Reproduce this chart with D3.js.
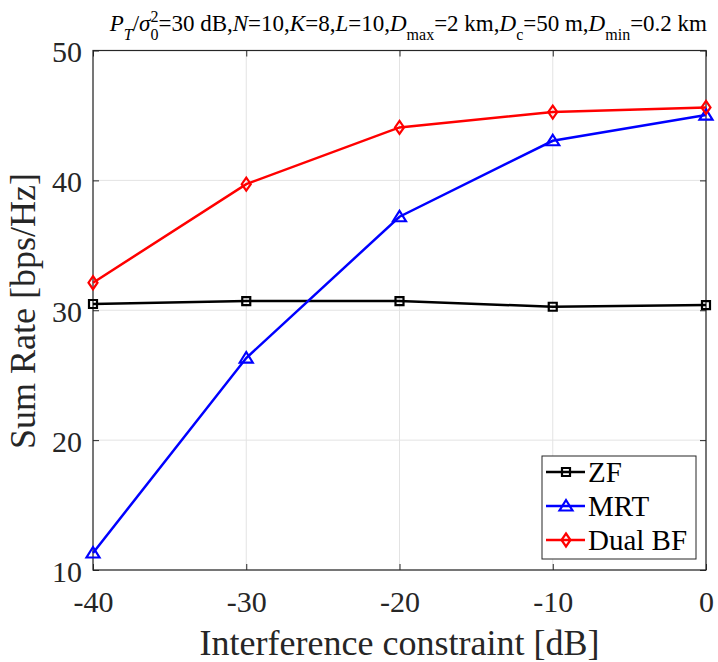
<!DOCTYPE html>
<html>
<head>
<meta charset="utf-8">
<script src="https://cdn.jsdelivr.net/npm/d3@7"></script>
<style>
  html, body { margin: 0; padding: 0; background: #fff; }
  svg { display: block; }
  svg text { font-family: "Liberation Serif", "Times New Roman", serif; }
</style>
</head>
<body>
<svg id="chart" width="718" height="662"></svg>
<script>
// Interference constraint (dB) on the x axis
const constraints = [-40, -30, -20, -10, 0];
// Sum rate (bps/Hz) for each beamforming scheme
const zfRate   = [30.48, 30.71, 30.71, 30.27, 30.40];
const mrtRate  = [11.31, 26.32, 37.20, 43.05, 45.03];
const dualRate = [32.12, 39.71, 44.08, 45.26, 45.62];
const seriesNames = ["ZF", "MRT", "Dual BF"];
const xTicks = [-40, -30, -20, -10, 0];
const yTicks = [10, 20, 30, 40, 50];

const FONT = "'Liberation Serif', 'Times New Roman', serif";

const series = [
  { name: seriesNames[0], values: zfRate,   color: "#000000", marker: "square" },
  { name: seriesNames[1], values: mrtRate,  color: "#0000ff", marker: "triangle" },
  { name: seriesNames[2], values: dualRate, color: "#ff0000", marker: "diamond" }
];

const svg = d3.select("#chart");
const plot = { left: 93, right: 706, top: 50.5, bottom: 570 };

const x = d3.scaleLinear().domain([-40, 0]).range([plot.left, plot.right]);
const y = d3.scaleLinear().domain([10, 50]).range([plot.bottom, plot.top]);

// grid
const grid = svg.append("g");
grid.selectAll("line.gx").data(xTicks).join("line")
  .attr("x1", d => x(d)).attr("x2", d => x(d))
  .attr("y1", plot.top).attr("y2", plot.bottom)
  .attr("stroke", "#e3e3e3").attr("stroke-width", 1);
grid.selectAll("line.gy").data(yTicks).join("line")
  .attr("x1", plot.left).attr("x2", plot.right)
  .attr("y1", d => y(d)).attr("y2", d => y(d))
  .attr("stroke", "#e3e3e3").attr("stroke-width", 1);

// axes with inward ticks
const tickLen = 6;
const fmt = d => String(d);
const xAxis = d3.axisBottom(x).tickValues(xTicks).tickFormat(fmt)
  .tickSizeInner(-tickLen).tickSizeOuter(0).tickPadding(21);
const yAxis = d3.axisLeft(y).tickValues(yTicks).tickFormat(fmt)
  .tickSizeInner(-tickLen).tickSizeOuter(0).tickPadding(11);

const gx = svg.append("g").attr("transform", `translate(0,${plot.bottom})`).call(xAxis);
const gy = svg.append("g").attr("transform", `translate(${plot.left},0)`).call(yAxis);
[gx, gy].forEach(g => {
  g.attr("font-family", FONT);
  g.select(".domain").remove();
  g.selectAll(".tick line").attr("stroke", "#262626").attr("stroke-width", 1);
  g.selectAll(".tick text")
    .attr("font-family", FONT)
    .attr("font-size", 30).attr("fill", "#262626");
});
gx.selectAll(".tick text").attr("dy", "0.71em");
gy.selectAll(".tick text").attr("dy", "0.38em");

// top and right ticks
svg.append("g").attr("transform", `translate(0,${plot.top})`)
  .call(d3.axisTop(x).tickValues(xTicks).tickSizeInner(-tickLen).tickSizeOuter(0).tickFormat(""))
  .call(g => g.select(".domain").remove())
  .call(g => g.selectAll(".tick line").attr("stroke", "#262626"));
svg.append("g").attr("transform", `translate(${plot.right},0)`)
  .call(d3.axisRight(y).tickValues(yTicks).tickSizeInner(-tickLen).tickSizeOuter(0).tickFormat(""))
  .call(g => g.select(".domain").remove())
  .call(g => g.selectAll(".tick line").attr("stroke", "#262626"));

// box
svg.append("rect")
  .attr("x", plot.left).attr("y", plot.top)
  .attr("width", plot.right - plot.left).attr("height", plot.bottom - plot.top)
  .attr("fill", "none").attr("stroke", "#262626").attr("stroke-width", 1.2);

// marker shapes
function markerPath(type) {
  if (type === "square") return "M-4,-4H4V4H-4Z";
  if (type === "triangle") return "M0,-6L6.5,4.5H-6.5Z";
  return "M0,-6.5L4.5,0L0,6.5L-4.5,0Z";
}

const line = d3.line().x((d, i) => x(constraints[i])).y(d => y(d));

series.forEach(s => {
  const g = svg.append("g");
  g.append("path").datum(s.values)
    .attr("d", line).attr("fill", "none")
    .attr("stroke", s.color).attr("stroke-width", 2.5);
  g.selectAll("path.m").data(s.values).join("path")
    .attr("class", "m")
    .attr("transform", (d, i) => `translate(${x(constraints[i])},${y(d)})`)
    .attr("d", markerPath(s.marker))
    .attr("fill", "none").attr("stroke", s.color).attr("stroke-width", 2.2);
});

// axis labels
svg.append("text")
  .attr("x", (plot.left + plot.right) / 2).attr("y", 655)
  .attr("text-anchor", "middle").attr("font-family", FONT)
  .attr("font-size", 36).attr("fill", "#262626")
  .text("Interference constraint [dB]");
svg.append("text")
  .attr("transform", `translate(35,311) rotate(-90)`)
  .attr("text-anchor", "middle").attr("font-family", FONT)
  .attr("font-size", 36).attr("fill", "#262626")
  .text("Sum Rate [bps/Hz]");

// title with parameters (TeX-style sub/superscripts)
const title = svg.append("text")
  .attr("x", 707).attr("y", 31).attr("text-anchor", "end")
  .attr("font-family", FONT).attr("font-size", 23).attr("fill", "#000");
const parts = [
  ["P", "i"], ["T", "sub-i"], ["/", ""], ["σ", "i"], ["0", "sub"], ["2", "sup"],
  ["=30 dB,", ""], ["N", "i"], ["=10,", ""], ["K", "i"], ["=8,", ""], ["L", "i"], ["=10,", ""],
  ["D", "i"], ["max", "sub"], ["=2 km,", ""], ["D", "i"], ["c", "sub"], ["=50 m,", ""],
  ["D", "i"], ["min", "sub"], ["=0.2 km", ""]
];
let shift = 0;
parts.forEach(([t, k], idx) => {
  const ts = title.append("tspan").text(t);
  if (k === "i" || k === "sub-i") ts.attr("font-style", "italic");
  let target = 0;
  if (k === "sub" || k === "sub-i") target = 9;
  if (k === "sup") target = -9;
  if (k === "sub" || k === "sub-i" || k === "sup") ts.attr("font-size", 16);
  if (k === "sup" && parts[idx - 1][1] === "sub") ts.attr("dx", -8);
  ts.attr("dy", target - shift);
  shift = target;
});

// legend
const lg = svg.append("g").attr("font-family", FONT);
const lgBox = { x: 542, y: 456, w: 154, h: 103 };
lg.append("rect")
  .attr("x", lgBox.x).attr("y", lgBox.y).attr("width", lgBox.w).attr("height", lgBox.h)
  .attr("fill", "#fff").attr("stroke", "#262626").attr("stroke-width", 1);
const lgY = d3.scalePoint().domain(seriesNames).range([lgBox.y + 16, lgBox.y + 84]);
series.forEach(s => {
  const yy = lgY(s.name);
  lg.append("line").attr("x1", lgBox.x + 4).attr("x2", lgBox.x + 43)
    .attr("y1", yy).attr("y2", yy).attr("stroke", s.color).attr("stroke-width", 2.5);
  lg.append("path").attr("transform", `translate(${lgBox.x + 24},${yy})`)
    .attr("d", markerPath(s.marker)).attr("fill", "none")
    .attr("stroke", s.color).attr("stroke-width", 2.2);
  lg.append("text").attr("x", lgBox.x + 46).attr("y", yy).attr("dy", "0.35em")
    .attr("font-family", FONT)
    .attr("font-size", 29).attr("fill", "#000").text(s.name);
});
</script>
</body>
</html>
